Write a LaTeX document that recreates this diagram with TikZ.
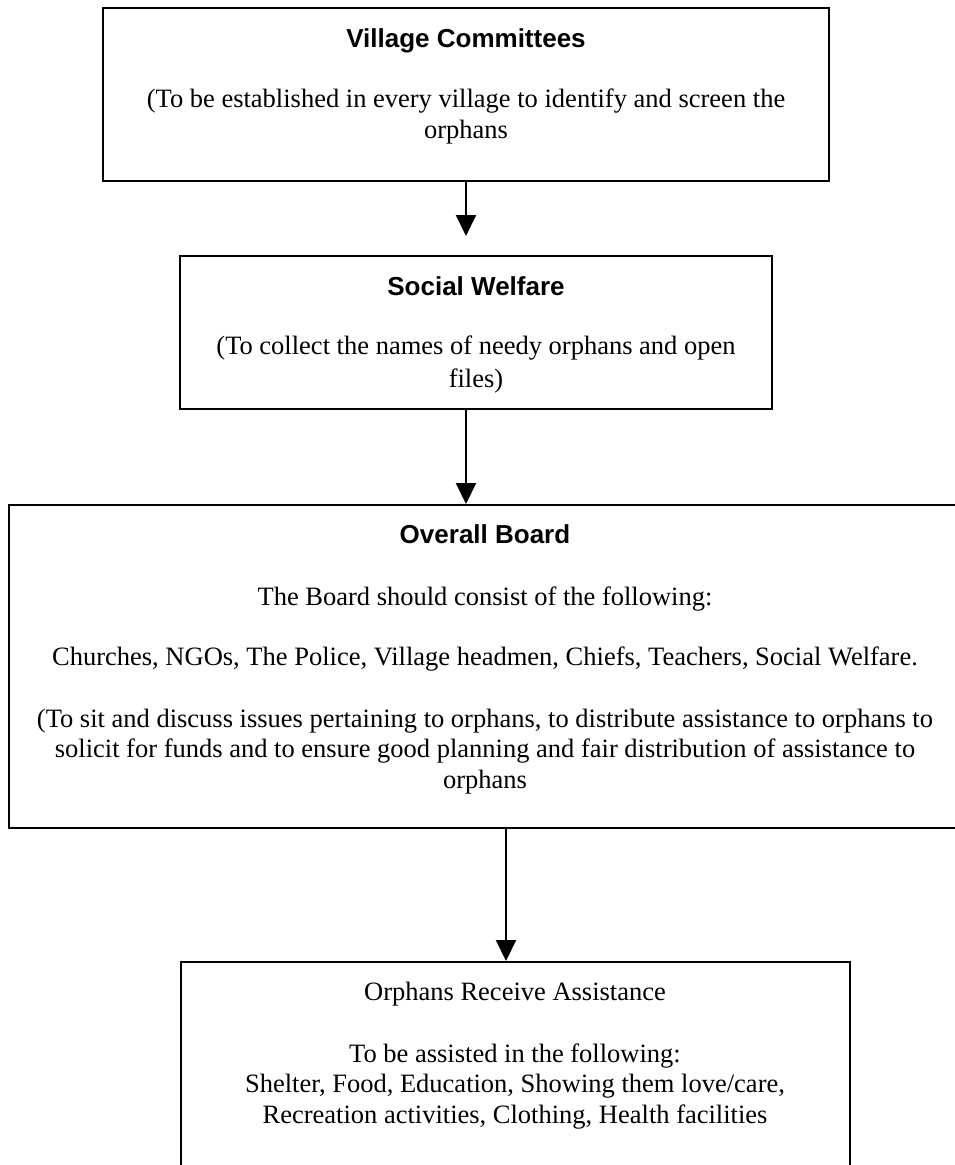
\documentclass[tikz,border=0pt]{standalone}
\usepackage{fontspec}
\setmainfont{Liberation Serif}
\newfontfamily\headfont{Liberation Sans}
\usetikzlibrary{arrows.meta}

\tikzset{every picture/.style={line width=2pt}}
\tikzset{
  box/.style={draw, inner sep=0pt},
  txt/.style={anchor=base, inner sep=0pt, font=\fontsize{26.5}{30.5}\selectfont},
  head/.style={anchor=base, inner sep=0pt, font=\headfont\bfseries\fontsize{26}{30}\selectfont},
  arr/.style={-{Triangle[width=20pt,length=21pt]}}
}

\begin{document}
\begin{tikzpicture}[x=1pt,y=1pt,yscale=-1,xscale=1]
	%set diagram to the size of the page
	\useasboundingbox (0,0) rectangle (954,1165);

	%Shape: Rectangle [Village Committees]
	\node[box, minimum width=726pt, minimum height=173pt] (vc) at (466,94.5) {};
	%Shape: Rectangle [Social Welfare]
	\node[box, minimum width=592pt, minimum height=153pt] (sw) at (476,332.5) {};
	%Shape: Rectangle [Overall Board]
	\node[box, minimum width=953pt, minimum height=323pt] (board) at (485,666.5) {};
	%Shape: Rectangle [Orphans Receive Assistance]
	\node[box, minimum width=669pt, minimum height=228pt] (ora) at (515.5,1076) {};

	% Text Node
	\node[head] (vc-title) at (466,47) {Village Committees};
	\node[txt] (vc-l1) at (466,107) {(To be established in every village to identify and screen the};
	\node[txt] (vc-l2) at (466,138) {orphans};

	% Text Node
	\node[head] (sw-title) at (476,295) {Social Welfare};
	\node[txt] (sw-l1) at (476,354) {(To collect the names of needy orphans and open};
	\node[txt] (sw-l2) at (476,387) {files)};

	% Text Node
	\node[head] (board-title) at (485,543) {Overall Board};
	\node[txt] (board-l1) at (485,605) {The Board should consist of the following:};
	\node[txt] (board-l2) at (485,665) {Churches, NGOs, The Police, Village headmen, Chiefs, Teachers, Social Welfare.};
	\node[txt] (board-l3) at (485,727) {(To sit and discuss issues pertaining to orphans, to distribute assistance to orphans to};
	\node[txt] (board-l4) at (485,757) {solicit for funds and to ensure good planning and fair distribution of assistance to};
	\node[txt] (board-l5) at (485,788) {orphans};

	% Text Node
	\node[txt] (ora-title) at (515,1000) {Orphans Receive Assistance};
	\node[txt] (ora-l1) at (515,1062) {To be assisted in the following:};
	\node[txt] (ora-l2) at (515,1092) {Shelter, Food, Education, Showing them love/care,};
	\node[txt] (ora-l3) at (515,1123) {Recreation activities, Clothing, Health facilities};

	%Straight Lines [arrows]
	\draw[arr, shorten >=19pt] (vc.south) -- (vc.south |- sw.north);
	\draw[arr] (vc.south |- sw.south) -- (vc.south |- board.north);
	\draw[arr] ([xshift=21pt]board.south) -- ([xshift=21pt]board.south |- ora.north);

\end{tikzpicture}
\end{document}
